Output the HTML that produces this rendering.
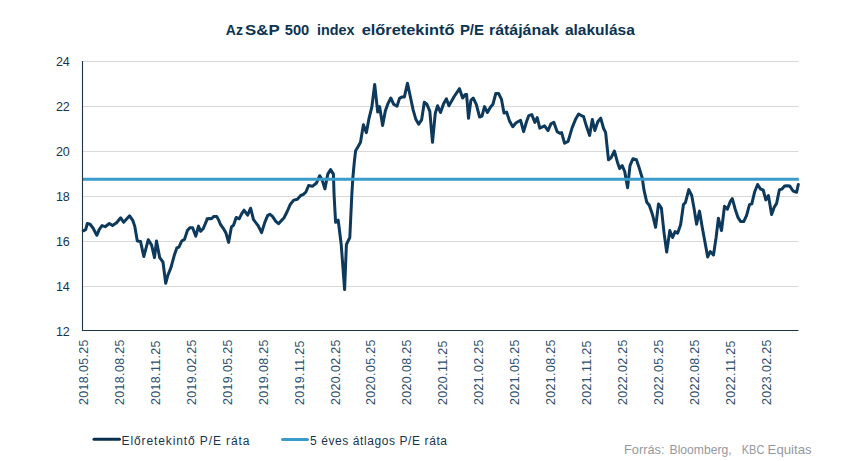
<!DOCTYPE html>
<html><head><meta charset="utf-8"><title>chart</title>
<style>
html,body{margin:0;padding:0;background:#fff;}
body{width:850px;height:461px;overflow:hidden;font-family:"Liberation Sans",sans-serif;}
svg{display:block}
text{font-family:"Liberation Sans",sans-serif;}
.title{font-size:14.6px;font-weight:bold;fill:#0b3352;letter-spacing:0px}
.yl{font-size:12.5px;fill:#17354f;letter-spacing:-0.25px}
.xl{font-size:12.4px;fill:#2e506b;letter-spacing:0.36px}
.lg{font-size:12px;fill:#17354f;}
.src{font-size:12.8px;fill:#96989f;letter-spacing:0px}
</style></head><body>
<svg width="850" height="461" viewBox="0 0 850 461">
<rect width="850" height="461" fill="#fff"/>
<text x="225.8" y="35" class="title" textLength="17.1" lengthAdjust="spacingAndGlyphs">Az</text>
<text x="245.1" y="35" class="title" textLength="34.6" lengthAdjust="spacingAndGlyphs">S&amp;P</text>
<text x="284.8" y="35" class="title" textLength="24.5" lengthAdjust="spacingAndGlyphs">500</text>
<text x="316.9" y="35" class="title" textLength="37.5" lengthAdjust="spacingAndGlyphs">index</text>
<text x="361.7" y="35" class="title" textLength="92.7" lengthAdjust="spacingAndGlyphs">előretekintő</text>
<text x="459.9" y="35" class="title" textLength="24.1" lengthAdjust="spacingAndGlyphs">P/E</text>
<text x="489.0" y="35" class="title" textLength="69.9" lengthAdjust="spacingAndGlyphs">rátájának</text>
<text x="564.9" y="35" class="title" textLength="69.9" lengthAdjust="spacingAndGlyphs">alakulása</text>
<line x1="83" x2="798.5" y1="61.5" y2="61.5" stroke="#d9d9d9" stroke-width="1"/><line x1="83" x2="798.5" y1="106.5" y2="106.5" stroke="#d9d9d9" stroke-width="1"/><line x1="83" x2="798.5" y1="151.5" y2="151.5" stroke="#d9d9d9" stroke-width="1"/><line x1="83" x2="798.5" y1="196.5" y2="196.5" stroke="#d9d9d9" stroke-width="1"/><line x1="83" x2="798.5" y1="241.5" y2="241.5" stroke="#d9d9d9" stroke-width="1"/><line x1="83" x2="798.5" y1="286.5" y2="286.5" stroke="#d9d9d9" stroke-width="1"/>
<text x="69.5" y="66.0" text-anchor="end" class="yl">24</text><text x="69.5" y="111.0" text-anchor="end" class="yl">22</text><text x="69.5" y="156.0" text-anchor="end" class="yl">20</text><text x="69.5" y="201.0" text-anchor="end" class="yl">18</text><text x="69.5" y="246.0" text-anchor="end" class="yl">16</text><text x="69.5" y="291.0" text-anchor="end" class="yl">14</text><text x="69.5" y="336.0" text-anchor="end" class="yl">12</text>
<text transform="translate(88.00,404.9) rotate(-90)" class="xl">2018.05.25</text><text transform="translate(123.93,404.9) rotate(-90)" class="xl">2018.08.25</text><text transform="translate(159.86,404.9) rotate(-90)" class="xl">2018.11.25</text><text transform="translate(195.79,404.9) rotate(-90)" class="xl">2019.02.25</text><text transform="translate(231.72,404.9) rotate(-90)" class="xl">2019.05.25</text><text transform="translate(267.65,404.9) rotate(-90)" class="xl">2019.08.25</text><text transform="translate(303.58,404.9) rotate(-90)" class="xl">2019.11.25</text><text transform="translate(339.51,404.9) rotate(-90)" class="xl">2020.02.25</text><text transform="translate(375.44,404.9) rotate(-90)" class="xl">2020.05.25</text><text transform="translate(411.37,404.9) rotate(-90)" class="xl">2020.08.25</text><text transform="translate(447.30,404.9) rotate(-90)" class="xl">2020.11.25</text><text transform="translate(483.23,404.9) rotate(-90)" class="xl">2021.02.25</text><text transform="translate(519.16,404.9) rotate(-90)" class="xl">2021.05.25</text><text transform="translate(555.09,404.9) rotate(-90)" class="xl">2021.08.25</text><text transform="translate(591.02,404.9) rotate(-90)" class="xl">2021.11.25</text><text transform="translate(626.95,404.9) rotate(-90)" class="xl">2022.02.25</text><text transform="translate(662.88,404.9) rotate(-90)" class="xl">2022.05.25</text><text transform="translate(698.81,404.9) rotate(-90)" class="xl">2022.08.25</text><text transform="translate(734.74,404.9) rotate(-90)" class="xl">2022.11.25</text><text transform="translate(770.67,404.9) rotate(-90)" class="xl">2023.02.25</text>
<path d="M83.3,230.8 L85.7,229.6 L87.3,223.5 L90.1,224.3 L93.0,228.0 L96.8,235.3 L99.2,229.6 L102.0,225.6 L105.2,226.7 L109.3,223.5 L112.5,225.6 L116.6,222.8 L120.7,217.8 L123.6,222.3 L129.6,215.8 L132.9,220.7 L134.8,226.4 L137.3,241.0 L140.5,241.4 L143.8,256.5 L148.3,239.7 L151.6,245.1 L154.5,257.6 L156.5,241.0 L159.7,257.6 L163.0,262.2 L165.7,283.3 L167.9,275.2 L171.1,267.1 L174.4,254.9 L176.8,248.0 L178.9,247.2 L181.7,241.0 L184.5,239.4 L187.4,230.5 L189.8,227.7 L192.6,227.7 L195.8,236.2 L198.5,226.1 L200.7,231.3 L203.3,228.5 L206.9,219.9 L207.0,218.8 L209.6,218.5 L211.5,218.8 L213.9,216.4 L216.7,216.4 L218.8,220.4 L220.5,224.5 L222.9,227.8 L225.8,232.6 L228.6,242.4 L231.4,226.9 L233.5,225.3 L236.2,217.5 L239.2,218.8 L241.6,213.9 L244.0,210.2 L247.6,215.2 L250.6,208.2 L253.5,219.6 L257.9,225.3 L261.6,232.6 L264.9,222.1 L267.6,215.6 L269.8,214.3 L272.5,216.4 L275.8,221.3 L278.5,223.7 L281.5,220.4 L283.9,218.0 L287.2,211.5 L290.4,204.2 L293.7,200.1 L297.4,199.3 L300.7,195.5 L303.4,194.4 L305.9,192.0 L308.6,185.5 L312.4,186.3 L316.5,183.0 L319.7,175.7 L322.1,179.8 L324.9,188.9 L327.8,174.1 L330.6,169.6 L333.4,174.1 L334.1,195.3 L335.6,222.3 L338.2,220.2 L341.2,244.5 L344.6,289.6 L346.4,244.5 L349.8,237.5 L351.8,195.3 L352.8,178.4 L354.2,163.2 L355.6,150.7 L358.0,146.8 L360.5,142.3 L363.4,124.8 L366.4,132.6 L368.9,118.9 L371.8,107.2 L374.7,84.4 L377.7,112.1 L379.6,106.6 L382.6,125.4 L385.3,111.1 L387.8,103.9 L390.8,98.0 L393.7,104.3 L397.0,106.2 L399.5,98.4 L402.1,96.9 L404.4,96.9 L407.5,83.2 L410.3,96.5 L413.2,110.1 L415.7,118.9 L418.7,124.2 L421.6,119.9 L424.3,102.3 L426.9,104.3 L429.8,111.1 L432.5,142.3 L435.3,113.1 L437.6,105.8 L440.5,112.5 L443.5,103.9 L446.4,98.8 L448.9,105.8 L454.2,96.5 L459.5,88.7 L462.6,98.0 L465.3,94.5 L466.6,94.5 L468.5,118.3 L470.9,100.4 L473.2,98.0 L476.3,104.3 L479.6,117.0 L482.0,116.0 L484.5,106.6 L487.4,112.5 L490.4,107.2 L492.9,104.3 L495.8,93.5 L498.6,93.5 L501.5,99.4 L504.0,113.1 L506.6,112.1 L509.5,120.9 L512.8,126.7 L516.1,122.8 L520.6,120.3 L523.6,131.6 L526.5,121.8 L528.8,115.6 L531.8,114.6 L534.9,122.4 L537.2,117.6 L539.8,128.1 L544.6,125.8 L548.0,130.6 L550.9,123.8 L553.8,122.2 L557.1,131.6 L559.7,133.2 L561.6,132.6 L564.6,143.3 L568.1,141.4 L572.0,128.1 L575.7,118.9 L578.6,114.0 L582.1,116.0 L583.5,116.4 L586.4,126.1 L589.6,135.4 L592.3,119.4 L594.8,130.5 L597.8,121.7 L600.7,118.2 L603.6,128.5 L605.6,132.4 L608.5,159.8 L611.0,157.8 L614.4,151.0 L617.3,161.7 L619.6,168.6 L622.2,165.6 L624.7,171.5 L627.6,187.7 L630.0,165.6 L632.9,158.8 L636.4,159.8 L639.1,167.6 L642.3,178.3 L643.9,189.6 L646.8,202.3 L649.3,205.3 L652.6,215.0 L655.6,227.3 L658.5,203.9 L661.4,208.2 L664.0,232.6 L666.7,252.1 L669.8,230.6 L672.6,237.5 L675.1,231.6 L677.6,233.2 L680.6,224.8 L683.5,204.3 L685.4,202.7 L688.8,189.6 L691.7,195.5 L694.2,209.2 L696.6,224.2 L699.5,211.1 L702.0,226.1 L705.0,242.3 L707.7,257.0 L710.2,251.5 L713.5,255.0 L716.1,237.5 L718.4,218.3 L721.5,230.6 L724.5,206.2 L727.4,209.2 L730.3,201.4 L732.3,198.6 L735.2,209.2 L738.1,217.7 L740.7,221.6 L743.7,221.6 L746.5,215.7 L749.5,204.7 L751.8,203.8 L754.7,191.7 L757.6,184.5 L760.6,189.1 L763.2,190.0 L765.8,199.9 L768.4,195.6 L771.6,214.4 L774.2,207.3 L776.6,203.4 L779.4,189.7 L782.0,189.1 L784.6,186.1 L787.2,185.8 L789.8,186.1 L793.1,191.0 L796.6,192.3 L798.3,184.5" fill="none" stroke="#0d395c" stroke-width="3" stroke-linejoin="round" stroke-linecap="round"/>
<line x1="82.5" x2="798.8" y1="179.3" y2="179.3" stroke="#3a9ccb" stroke-width="3"/>
<line x1="82.5" x2="82.5" y1="61" y2="331" stroke="#1f3542" stroke-width="1.1"/>
<line x1="82" x2="798.5" y1="330.5" y2="330.5" stroke="#1f3542" stroke-width="1.1"/>
<line x1="94" x2="119.5" y1="439.3" y2="439.3" stroke="#0a3050" stroke-width="3" stroke-linecap="round"/>
<text x="121.5" y="444.5" class="lg" textLength="128" lengthAdjust="spacing">Előretekintő P/E ráta</text>
<line x1="282.5" x2="307.5" y1="439.4" y2="439.4" stroke="#3a9ccb" stroke-width="3" stroke-linecap="round"/>
<text x="310" y="444.5" class="lg" textLength="137" lengthAdjust="spacing">5 éves átlagos P/E ráta</text>
<text x="624" y="453.5" class="src" textLength="40.5" lengthAdjust="spacingAndGlyphs">Forrás:</text>
<text x="669.6" y="453.5" class="src" textLength="62" lengthAdjust="spacingAndGlyphs">Bloomberg,</text>
<text x="741.8" y="453.5" class="src" textLength="22.5" lengthAdjust="spacingAndGlyphs">KBC</text>
<text x="767.6" y="453.5" class="src" textLength="44" lengthAdjust="spacingAndGlyphs">Equitas</text>
</svg>
</body></html>
